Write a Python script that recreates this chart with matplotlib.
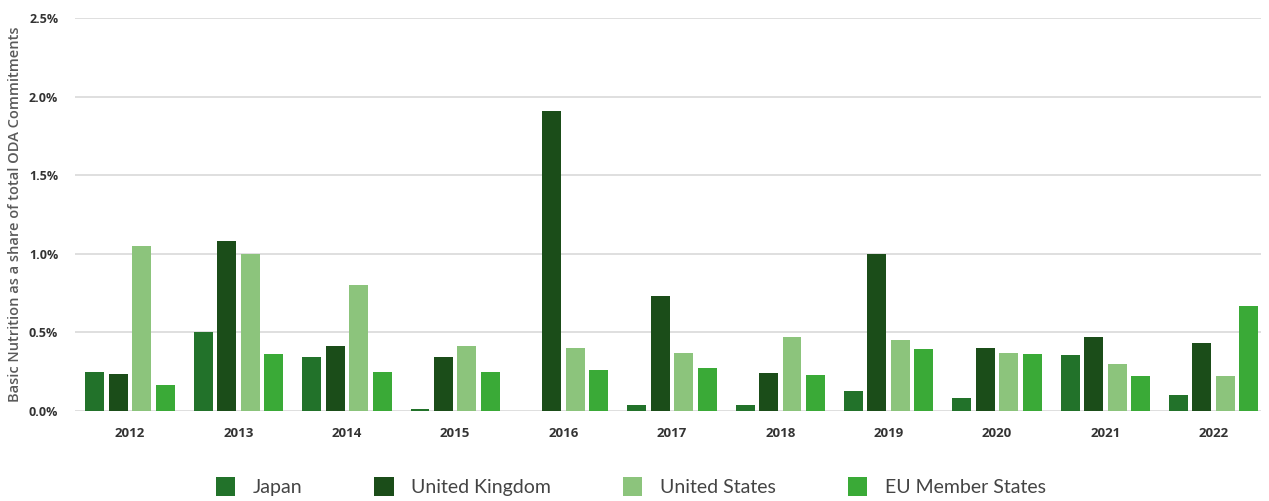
import matplotlib.pyplot as plt
import numpy as np

years = ['2012', '2013', '2014', '2015', '2016', '2017', '2018', '2019', '2020', '2021', '2022']
japan = [0.25, 0.50, 0.34, 0.01, 0.0, 0.035, 0.04, 0.125, 0.08, 0.355, 0.10]
uk = [0.235, 1.08, 0.41, 0.34, 1.91, 0.73, 0.24, 1.00, 0.40, 0.47, 0.43]
us = [1.05, 1.00, 0.80, 0.41, 0.40, 0.37, 0.47, 0.45, 0.37, 0.30, 0.22]
eu = [0.165, 0.36, 0.25, 0.245, 0.26, 0.275, 0.23, 0.395, 0.36, 0.22, 0.665]

series = [('Japan', japan, '#22722a'),
          ('United Kingdom', uk, '#1b4d19'),
          ('United States', us, '#8cc47c'),
          ('EU Member States', eu, '#3aaa37')]

plt.rcParams['font.family'] = ['Open Sans', 'DejaVu Sans']

fig = plt.figure(figsize=(12.69, 5.01), dpi=100)
ax = fig.add_axes([0.059, 0.18, 0.935, 0.784])

x = np.arange(len(years))
step = 0.2166
width = 0.175
for i, (name, vals, color) in enumerate(series):
    ax.bar(x + (i - 1.5) * step, vals, width, color=color, label=name, zorder=3)

ax.set_ylim(0, 2.5)
ax.set_xlim(-0.51, 10.44)
ax.set_yticks([0, 0.5, 1.0, 1.5, 2.0, 2.5])
ax.set_yticklabels(['0.0%', '0.5%', '1.0%', '1.5%', '2.0%', '2.5%'], fontsize=9, fontweight='bold', color='#333333')
ax.set_xticks(x)
ax.set_xticklabels(years, fontsize=9.5, fontweight='bold', color='#333333')
ax.tick_params(axis='x', length=0, pad=12)
ax.tick_params(axis='y', length=0, pad=12)
ax.grid(axis='y', color='#d9d9d9', linewidth=1.2, zorder=0)
for s in ['top', 'right', 'left', 'bottom']:
    ax.spines[s].set_visible(False)
ax.set_ylabel('Basic Nutrition as a share of total ODA Commitments', fontsize=10.5, color='#5a5a5a',
              fontweight='semibold', labelpad=5)

fig.legend(loc='lower center', bbox_to_anchor=(0.497, -0.025), ncol=4, frameon=False,
           prop={'family': 'Lato', 'size': 14}, handlelength=1.0, handleheight=1.1, handletextpad=0.9,
           columnspacing=3.7, labelcolor='#444444')

fig.savefig('out.png', dpi=100, facecolor='white')
